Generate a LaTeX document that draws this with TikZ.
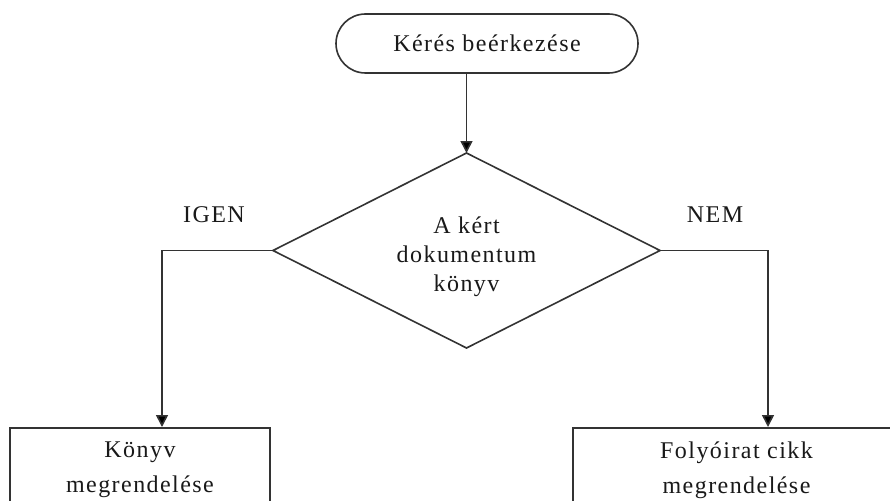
\documentclass[tikz,border=0pt]{standalone}
\usepackage{fontspec}
\setmainfont{Liberation Serif}[LetterSpace=6]
\usetikzlibrary{shapes.geometric,shapes.misc,arrows.meta}
\begin{document}
\begin{tikzpicture}[x=1pt,y=-1pt,
  every node/.style={font=\fontsize{24}{29}\selectfont, text=black!90},
  line/.style={draw=black!80, line width=1.6pt},
  flow/.style={line, -{Triangle[width=12pt,length=12pt,fill=black]}},
  terminal/.style={line, rounded rectangle, minimum width=302pt, minimum height=59pt, inner sep=0pt},
  decision/.style={line, diamond, shape aspect=2, minimum width=387pt, minimum height=195pt, inner sep=0pt, outer sep=0pt},
  procbox/.style={line, rectangle, anchor=north, inner sep=0pt},
  boxtext/.style={anchor=north, align=center, font=\fontsize{24}{35}\selectfont},
  branch/.style={font=\fontsize{24}{29}\selectfont}]
  \useasboundingbox (0,0) rectangle (890,500);
  \clip (0,0) rectangle (890,500);
  \fill[white] (0,0) rectangle (890,500);

  % start
  \node[terminal] (start) at (487,43.5) {Kérés beérkezése};

  % decision, its text set a little below the centre
  \node[decision] (dec) at (466.5,250.5)
    {\raisebox{-12pt}[0pt][0pt]{\begin{tabular}{@{}c@{}}A kért\\dokumentum\\könyv\end{tabular}}};

  % outcome boxes (run past the lower edge)
  \node[procbox, minimum width=260pt, minimum height=130pt] (book) at (140,427) {};
  \node[boxtext] (booktxt) at ([yshift=-11pt]book.north) {Könyv\\megrendelése};
  \node[procbox, minimum width=327pt, minimum height=130pt] (article) at (736.5,427) {};
  \node[boxtext] (articletxt) at ([yshift=-11pt]article.north) {Folyóirat cikk\\megrendelése};

  % branch labels
  \node[branch] (yes) at (214,215) {IGEN};
  \node[branch] (no) at (715,215) {NEM};

  % connectors
  \draw[flow] (dec.north |- start.south) -- (dec.north);
  \draw[flow] (dec.west) -| ([xshift=22pt]book.north);
  \draw[flow] (dec.east) -| ([xshift=31.5pt]article.north);
\end{tikzpicture}
\end{document}
